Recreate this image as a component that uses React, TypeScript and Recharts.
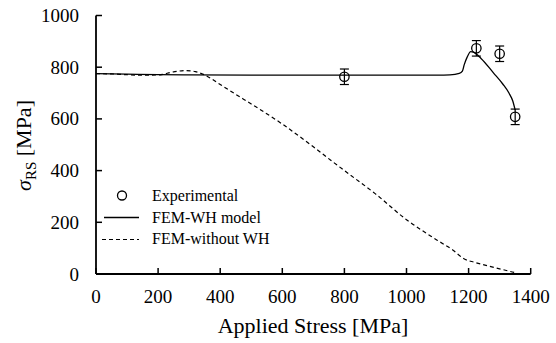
import React from "react";
import {
  ComposedChart,
  Line,
  Scatter,
  ErrorBar,
  XAxis,
  YAxis,
  Label,
} from "recharts";

const xTicks = [0, 200, 400, 600, 800, 1000, 1200, 1400];
const yTicks = [0, 200, 400, 600, 800, 1000];

const expStress = [800, 1225, 1300, 1350];
const expRS = [763, 873, 852, 608];
const expErr = [30, 30, 30, 30];

const whStress = [0, 100, 200, 300, 500, 800, 1000, 1100, 1140, 1170, 1180, 1186, 1195, 1207, 1215, 1240, 1280, 1310, 1330, 1342, 1350];
const whRS = [775, 773, 771, 770, 769, 769, 769, 769, 770, 776, 785, 810, 838, 860, 858, 834, 778, 735, 700, 670, 634];

const noWhStress = [0, 50, 100, 150, 200, 250, 290, 320, 350, 400, 450, 500, 600, 700, 756, 800, 900, 1000, 1100, 1150, 1185, 1220, 1260, 1300, 1350];
const noWhRS = [775, 774, 771, 769, 770, 782, 787, 783, 770, 733, 695, 658, 580, 492, 440, 400, 310, 210, 130, 92, 59, 45, 32, 20, 5];

const FONT = "'Liberation Serif', 'DejaVu Serif', serif";
const PLOT_LEFT = 96;
const PLOT_BOTTOM = 274;

const expData = expStress.map((x, i) => ({ x, y: expRS[i], err: expErr[i] }));
const whData = whStress.map((x, i) => ({ x, y: whRS[i] }));
const noWhData = noWhStress.map((x, i) => ({ x, y: noWhRS[i] }));

function XTick(props: any) {
  const { x, payload } = props;
  return (
    <g>
      <line x1={x} x2={x} y1={PLOT_BOTTOM} y2={PLOT_BOTTOM - 6} stroke="#000" strokeWidth={1.5} />
      <text x={x} y={PLOT_BOTTOM + 29} textAnchor="middle" fontFamily={FONT} fontSize={19} fill="#000">
        {payload.value}
      </text>
    </g>
  );
}

function YTick(props: any) {
  const { y, payload } = props;
  return (
    <g>
      <line x1={PLOT_LEFT} x2={PLOT_LEFT + 6} y1={y} y2={y} stroke="#000" strokeWidth={1.5} />
      <text x={79} y={y + 6.5} textAnchor="end" fontFamily={FONT} fontSize={19} fill="#000">
        {payload.value}
      </text>
    </g>
  );
}

function YLabel() {
  return (
    <text
      transform="translate(31,145.5) rotate(-90)"
      textAnchor="middle"
      fontFamily={FONT}
      fontSize={22}
      fill="#000"
    >
      <tspan fontStyle="italic">σ</tspan>
      <tspan fontSize={15} dy={5}>RS</tspan>
      <tspan dy={-5}> [MPa]</tspan>
    </text>
  );
}

function XLabel() {
  return (
    <text x={313} y={333} textAnchor="middle" fontFamily={FONT} fontSize={22} fill="#000">
      Applied Stress [MPa]
    </text>
  );
}

function Circle(props: any) {
  const { cx, cy } = props;
  return <circle cx={cx} cy={cy} r={4.7} fill="none" stroke="#000" strokeWidth={1.3} />;
}

function LegendBox() {
  const row: React.CSSProperties = { display: "flex", alignItems: "center", height: 21.7 };
  const txt: React.CSSProperties = { fontFamily: FONT, fontSize: 16, color: "#000", marginLeft: 12 };
  return (
    <div style={{ position: "absolute", left: 100, top: 185 }}>
      <div style={row}>
        <svg width={40} height={21}>
          <circle cx={22} cy={10.5} r={4.5} fill="none" stroke="#000" strokeWidth={1.3} />
        </svg>
        <span style={txt}>Experimental</span>
      </div>
      <div style={row}>
        <svg width={40} height={21}>
          <line x1={4} x2={39} y1={10.5} y2={10.5} stroke="#000" strokeWidth={1.3} />
        </svg>
        <span style={txt}>FEM-WH model</span>
      </div>
      <div style={row}>
        <svg width={40} height={21}>
          <line x1={2} x2={39} y1={10.5} y2={10.5} stroke="#000" strokeWidth={1.2} strokeDasharray="4 3" />
        </svg>
        <span style={txt}>FEM-without WH</span>
      </div>
    </div>
  );
}

export default function App() {
  return (
    <div style={{ position: "absolute", left: 0, top: 0, width: 556, height: 343, background: "#fff" }}>
      <ComposedChart
        width={556}
        height={343}
        margin={{ top: 15.5, right: 25.3, bottom: 19, left: 36 }}
      >
        <XAxis
          type="number"
          dataKey="x"
          domain={[0, 1400]}
          ticks={xTicks}
          tick={<XTick />}
          tickLine={false}
          axisLine={{ stroke: "#000", strokeWidth: 1.8 }}
          height={50}
          allowDataOverflow
        >
          <Label content={<XLabel />} />
        </XAxis>
        <YAxis
          type="number"
          domain={[0, 1000]}
          ticks={yTicks}
          tick={<YTick />}
          tickLine={false}
          axisLine={{ stroke: "#000", strokeWidth: 1.8 }}
          width={60}
          allowDataOverflow
        >
          <Label content={<YLabel />} />
        </YAxis>
        <Line
          data={noWhData}
          dataKey="y"
          type="monotone"
          stroke="#000"
          strokeWidth={1.2}
          strokeDasharray="4 3"
          dot={false}
          isAnimationActive={false}
        />
        <Line
          data={whData}
          dataKey="y"
          type="monotone"
          stroke="#000"
          strokeWidth={1.3}
          dot={false}
          isAnimationActive={false}
        />
        <Scatter data={expData} dataKey="y" shape={<Circle />} isAnimationActive={false}>
          <ErrorBar dataKey="err" direction="y" width={4.5} stroke="#000" strokeWidth={1.2} />
        </Scatter>
      </ComposedChart>
      <LegendBox />
    </div>
  );
}
